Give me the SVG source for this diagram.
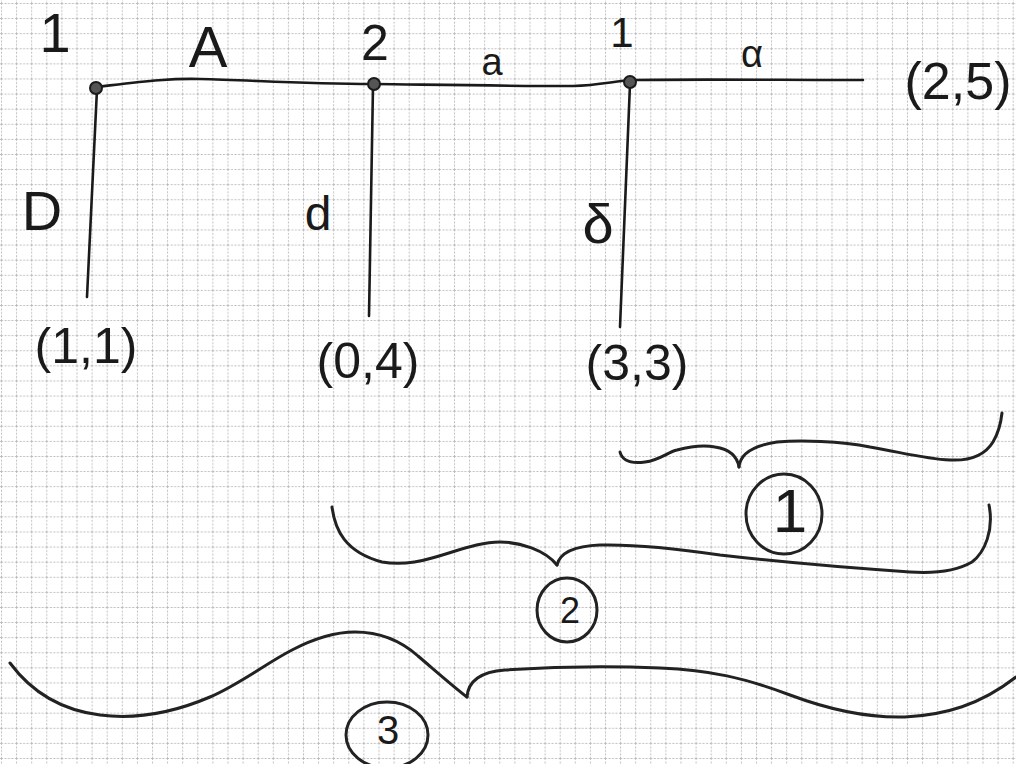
<svg xmlns="http://www.w3.org/2000/svg" width="1016" height="764" viewBox="0 0 1016 764">
  <defs>
    <pattern id="grid" x="1" y="3" width="15.1" height="15.1" patternUnits="userSpaceOnUse">
      <path d="M0 0.5H15.1M0.5 0V15.1" fill="none" stroke="#bcbcbc" stroke-width="1" stroke-dasharray="2 1.5"/>
    </pattern>
    <style>
      .ink{fill:none;stroke:#1a1a1a;stroke-width:2.6;stroke-linecap:round;stroke-linejoin:round}
      .brace{fill:none;stroke:#222;stroke-width:3;stroke-linecap:round;stroke-linejoin:round}
      .dot{fill:#555;stroke:#1a1a1a;stroke-width:2}
      .t{font-family:"Liberation Sans","DejaVu Sans",sans-serif;fill:#1a1a1a;text-anchor:middle}
    </style>
  </defs>
  <rect width="1016" height="764" fill="#ffffff"/>
  <rect width="1016" height="764" fill="url(#grid)"/>

  <g id="connectors">
    <path class="ink" d="M96 87 C140 82 170 78 200 79 C250 80 300 84 373 84 C450 85 500 86 573 86 C600 85 615 81 633 80 C700 79 780 80 863 80"/>
    <path class="ink" d="M97 89 L87 297"/>
    <path class="ink" d="M373 86 L369 316"/>
    <path class="ink" d="M630 84 L620 327"/>
  </g>

  <g id="node-left">
    <circle class="dot" cx="96" cy="88" r="6"/>
    <text class="t" x="55" y="52" font-size="56">1</text>
  </g>
  <g id="node-middle">
    <circle class="dot" cx="374" cy="84" r="6"/>
    <text class="t" x="375" y="60" font-size="50">2</text>
  </g>
  <g id="node-right">
    <circle class="dot" cx="630" cy="82" r="6"/>
    <text class="t" x="622" y="47" font-size="42">1</text>
  </g>

  <g id="edge-labels">
    <text class="t" x="208" y="67" font-size="58">A</text>
    <text class="t" x="492" y="75" font-size="38">a</text>
    <text class="t" x="752" y="67" font-size="38">α</text>
    <text class="t" x="42" y="230" font-size="56">D</text>
    <text class="t" x="318" y="230" font-size="48">d</text>
    <text class="t" x="598" y="243" font-size="56">δ</text>
  </g>

  <g id="end-labels">
    <text class="t" x="958" y="99" font-size="52">(2,5)</text>
    <text class="t" x="86" y="363" font-size="50">(1,1)</text>
    <text class="t" x="368" y="378" font-size="50">(0,4)</text>
    <text class="t" x="637" y="380" font-size="50">(3,3)</text>
  </g>

  <g id="brace-1">
    <path class="brace" d="M620 452 C622 460 630 464 645 462 C660 460 668 452 677 450 C692 446 705 445 715 447 C728 449 737 455 739 467"/>
    <path class="brace" d="M739 467 C740 455 750 446 777 442 C800 440 840 441 870 447 C900 452 925 459 950 460 C970 461 985 455 993 442 C999 432 1001 422 1002 413"/>
    <ellipse class="brace" cx="784" cy="514" rx="38" ry="40"/>
    <text class="t" x="790" y="532" font-size="62">1</text>
  </g>

  <g id="brace-2">
    <path class="brace" d="M332 507 C335 530 345 552 382 562 C400 565 415 563 432 558 C460 550 480 542 500 542 C520 542 545 550 557 565"/>
    <path class="brace" d="M557 565 C560 552 575 546 600 545 C640 544 680 549 720 555 C780 562 850 568 910 572 C940 574 960 569 972 562 C985 552 994 530 989 505"/>
    <ellipse class="brace" cx="567" cy="610" rx="30" ry="32"/>
    <text class="t" x="570" y="623" font-size="36">2</text>
  </g>

  <g id="brace-3">
    <path class="brace" d="M10 663 C30 690 60 710 100 715 C140 720 175 712 210 697 C240 684 265 664 292 650 C315 638 335 632 355 632 C380 632 400 640 418 656 C438 673 455 688 467 697"/>
    <path class="brace" d="M467 697 C468 683 478 672 505 670 C550 667 610 666 660 668 C710 670 745 678 790 695 C830 710 870 718 905 717 C945 715 980 705 1016 677"/>
    <ellipse class="brace" cx="387" cy="735" rx="41" ry="33"/>
    <text class="t" x="388" y="744" font-size="40">3</text>
  </g>
</svg>
